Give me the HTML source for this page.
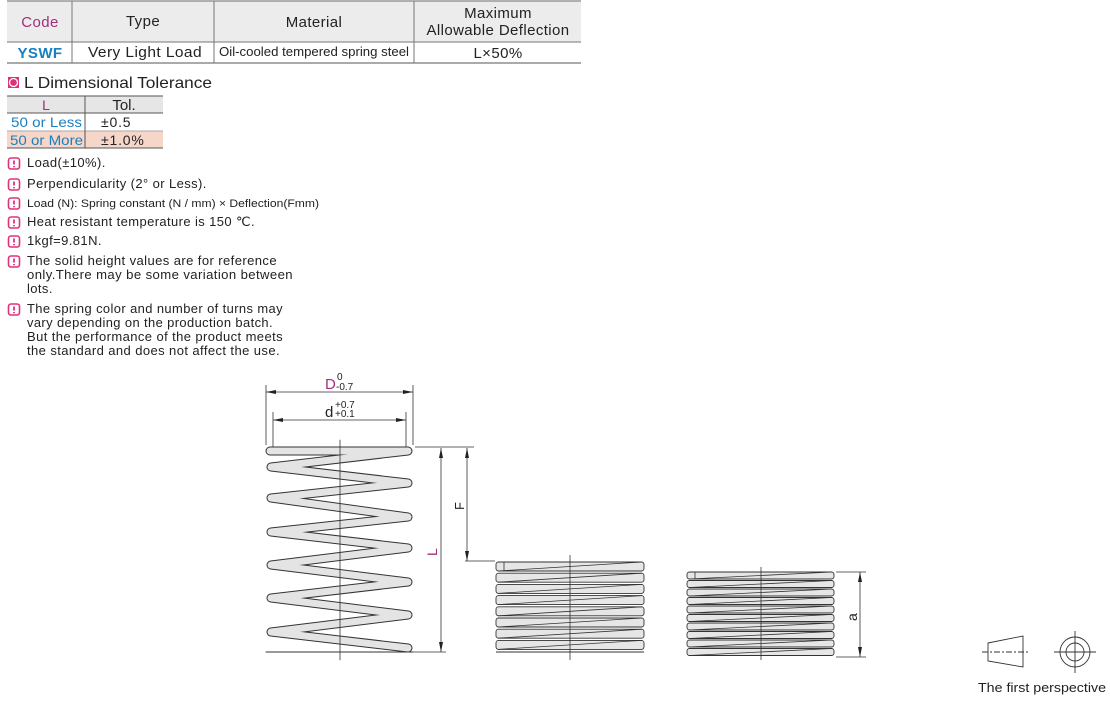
<!DOCTYPE html>
<html><head><meta charset="utf-8"><style>
html,body{margin:0;padding:0;background:#fff;}
svg{display:block;font-family:"Liberation Sans",sans-serif;}
</style></head><body>
<svg id="s" width="1110" height="701" viewBox="0 0 1110 701" xmlns="http://www.w3.org/2000/svg">
<rect x="7" y="1" width="574" height="41" fill="#ececec"/>
<line x1="7" y1="1" x2="581" y2="1" stroke="#999" stroke-width="1.5"/>
<line x1="7" y1="42" x2="581" y2="42" stroke="#777"/>
<line x1="7" y1="63" x2="581" y2="63" stroke="#555"/>
<g stroke="#777"><line x1="72" y1="1" x2="72" y2="63"/><line x1="214" y1="1" x2="214" y2="63"/><line x1="414" y1="1" x2="414" y2="63"/></g>
<g font-size="15" fill="#222" text-anchor="middle" letter-spacing="0.4">
<text x="40" y="27" fill="#a0307a">Code</text>
<text x="143" y="26">Type</text>
<text x="314" y="27">Material</text>
<text x="498" y="18">Maximum</text>
<text x="498" y="35">Allowable Deflection</text>
<text x="40" y="58" fill="#1a7fc0" font-weight="bold">YSWF</text>
<text x="145" y="57" textLength="114" lengthAdjust="spacingAndGlyphs">Very Light Load</text>
<text x="314" y="56" font-size="13" letter-spacing="0" textLength="190" lengthAdjust="spacingAndGlyphs">Oil-cooled tempered spring steel</text>
<text x="498" y="58">L×50%</text>
</g>
<rect x="8" y="77" width="11" height="11" fill="#e0307a"/>
<circle cx="13.5" cy="82.5" r="4" fill="none" stroke="#fff" stroke-width="1.3"/>
<text x="24" y="88" font-size="16" fill="#222" textLength="188" lengthAdjust="spacingAndGlyphs">L Dimensional Tolerance</text>
<rect x="7" y="96" width="156" height="17" fill="#e6e6e6"/>
<rect x="7" y="131" width="156" height="17" fill="#f6d6c8"/>
<g stroke="#555"><line x1="7" y1="96" x2="163" y2="96"/><line x1="7" y1="113" x2="163" y2="113"/><line x1="7" y1="131" x2="163" y2="131" stroke="#aaa"/><line x1="7" y1="148" x2="163" y2="148"/><line x1="85" y1="96" x2="85" y2="148"/></g>
<g font-size="14">
<text x="46" y="110" fill="#a0307a" text-anchor="middle">L</text>
<text x="124" y="110" fill="#222" text-anchor="middle" font-size="15">Tol.</text>
<text x="11" y="127" fill="#1a7fc0" textLength="71" lengthAdjust="spacingAndGlyphs">50 or Less</text>
<text x="101" y="127" fill="#222" letter-spacing="0.8">±0.5</text>
<text x="10" y="145" fill="#1a7fc0" textLength="73" lengthAdjust="spacingAndGlyphs">50 or More</text>
<text x="101" y="145" fill="#222" letter-spacing="0.8">±1.0%</text>
</g>
<g id="icons" fill="none" stroke="#e0307a" stroke-width="1.6"></g>
<g font-size="13" fill="#222" letter-spacing="0.4">
<text x="27" y="167">Load(±10%).</text>
<text x="27" y="188">Perpendicularity  (2° or Less).</text>
<text x="27" y="207" font-size="11" letter-spacing="0" textLength="292" lengthAdjust="spacingAndGlyphs">Load (N): Spring constant (N / mm) × Deflection(Fmm)</text>
<text x="27" y="226" textLength="228" lengthAdjust="spacingAndGlyphs">Heat resistant temperature is 150 ℃.</text>
<text x="27" y="245">1kgf=9.81N.</text>
<text x="27" y="265" textLength="250" lengthAdjust="spacingAndGlyphs">The solid height values are for reference</text>
<text x="27" y="279" textLength="266" lengthAdjust="spacingAndGlyphs">only.There may be some variation between</text>
<text x="27" y="293">lots.</text>
<text x="27" y="313" textLength="256" lengthAdjust="spacingAndGlyphs">The spring color and number of turns may</text>
<text x="27" y="327" textLength="246" lengthAdjust="spacingAndGlyphs">vary depending on the production batch.</text>
<text x="27" y="341" textLength="256" lengthAdjust="spacingAndGlyphs">But the performance of the product meets</text>
<text x="27" y="355" textLength="253" lengthAdjust="spacingAndGlyphs">the standard and does not affect the use.</text>
</g>
<g fill="none" stroke-linejoin="round" stroke-linecap="round">
<polyline points="270,451 408,451 271,467 408,483 271,498 408,517 271,532 408,548 271,565 408,582 271,598 408,615 271,632 408,648" stroke="#333" stroke-width="9"/>
<polyline points="270,451 408,451 271,467 408,483 271,498 408,517 271,532 408,548 271,565 408,582 271,598 408,615 271,632 408,648" stroke="#e4e4e4" stroke-width="7"/>
<line x1="266" y1="652" x2="413" y2="652" stroke="#333" stroke-width="1"/>
<line x1="340" y1="440" x2="340" y2="660" stroke="#333" stroke-width="0.8"/>
</g>
<g stroke="#333" stroke-width="0.8" fill="none">
<line x1="266" y1="385" x2="266" y2="445"/><line x1="413" y1="385" x2="413" y2="445"/>
<line x1="266" y1="392" x2="413" y2="392"/>
<line x1="273" y1="412" x2="273" y2="447"/><line x1="406" y1="412" x2="406" y2="447"/>
<line x1="273" y1="420" x2="406" y2="420"/>
<line x1="415" y1="447" x2="474" y2="447"/><line x1="413" y1="652" x2="446" y2="652"/>
<line x1="441" y1="448" x2="441" y2="652"/>
<line x1="467" y1="448" x2="467" y2="561"/>
<line x1="465" y1="561" x2="495" y2="561"/>
<line x1="836" y1="572" x2="866" y2="572"/><line x1="836" y1="657" x2="866" y2="657"/>
<line x1="860" y1="572" x2="860" y2="657"/>
</g>
<g fill="#222">
<path d="M266,392 l10,-2 v4z M413,392 l-10,-2 v4z M273,420 l10,-2 v4z M406,420 l-10,-2 v4z"/>
<path d="M441,448 l-2,10 h4z M441,652 l-2,-10 h4z M467,448 l-2,10 h4z M467,561 l-2,-10 h4z M860,572 l-2,10 h4z M860,657 l-2,-10 h4z"/>
</g>
<text x="325" y="389" font-size="15" fill="#a0307a">D</text>
<text x="337" y="380" font-size="10" fill="#222">0</text>
<text x="336" y="390" font-size="10" fill="#222">-0.7</text>
<text x="325" y="417" font-size="15" fill="#222">d</text>
<text x="335" y="408" font-size="10" fill="#222">+0.7</text>
<text x="335" y="417" font-size="10" fill="#222">+0.1</text>
<text transform="translate(437,556) rotate(-90)" font-size="14" fill="#a0307a">L</text>
<text transform="translate(464,510) rotate(-90)" font-size="13" fill="#222">F</text>
<text transform="translate(857,621) rotate(-90)" font-size="14" fill="#222">a</text>
<g id="sp"></g>
<line x1="570" y1="555" x2="570" y2="660" stroke="#333" stroke-width="0.8"/>
<line x1="761" y1="567" x2="761" y2="660" stroke="#333" stroke-width="0.8"/>
<line x1="496" y1="652" x2="644" y2="652" stroke="#333" stroke-width="1"/>
<g stroke="#333" stroke-width="0.9" fill="none">
<path d="M988,643 L1023,636 L1023,667 L988,661 Z"/>
<line x1="982" y1="652" x2="1030" y2="652" stroke-dasharray="6,2,2,2"/>
<circle cx="1075" cy="652" r="15"/><circle cx="1075" cy="652" r="9"/>
<line x1="1054" y1="652" x2="1096" y2="652"/><line x1="1075" y1="631" x2="1075" y2="673"/>
</g>
<text x="978" y="692" font-size="12.5" fill="#222" textLength="128" lengthAdjust="spacingAndGlyphs">The first perspective</text>
</svg>
<script>
var NS="http://www.w3.org/2000/svg";
function el(p,t,a){var e=document.createElementNS(NS,t);for(var k in a)e.setAttribute(k,a[k]);p.appendChild(e);return e;}
var ic=document.getElementById('icons');
[158,179,198,217,236,256,304].forEach(function(y){
 el(ic,'rect',{x:8.5,y:y,width:11,height:11,rx:2.5});
 el(ic,'line',{x1:14,y1:y+2.5,x2:14,y2:y+6.5,'stroke-width':1.8});
 el(ic,'line',{x1:14,y1:y+8,x2:14,y2:y+9.3,'stroke-width':1.8});
});
var sp=document.getElementById('sp');
function spring(x1,x2,y0,n,pitch,h){
 for(var i=0;i<n;i++){var y=y0+i*pitch;
  el(sp,'rect',{x:x1,y:y,width:x2-x1,height:h,rx:2.5,fill:'#e6e6e6',stroke:'#333','stroke-width':0.9});
  el(sp,'line',{x1:x1+2,y1:y+h,x2:x2-2,y2:y,stroke:'#333','stroke-width':0.8});
 }
 el(sp,'line',{x1:x1+8,y1:y0,x2:x1+8,y2:y0+h,stroke:'#333','stroke-width':0.8});
}
spring(496,644,562,8,11.2,9);
spring(687,834,572,10,8.5,7);
</script>
</body></html>
